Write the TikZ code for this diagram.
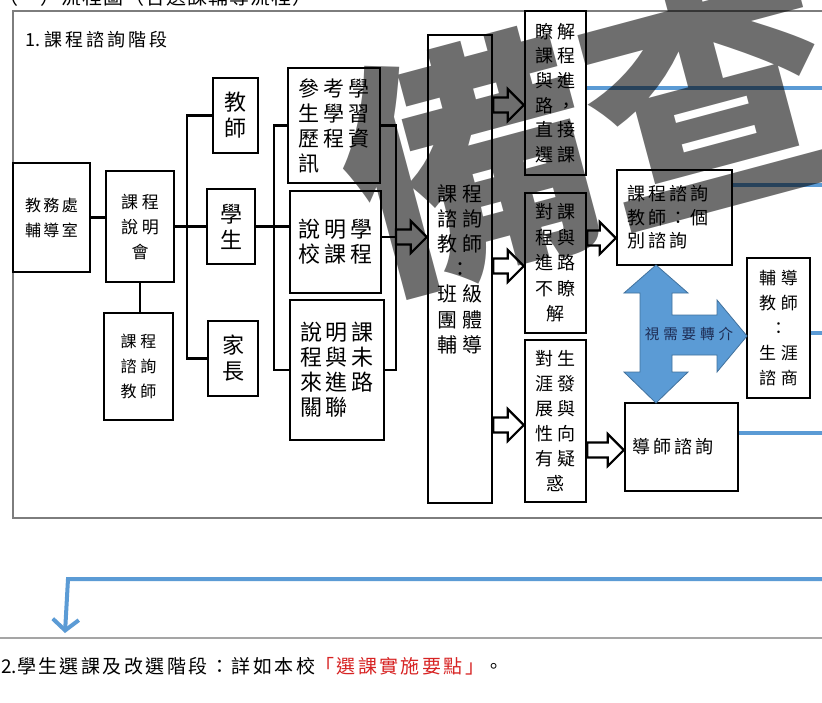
\documentclass[tikz,border=0pt]{standalone}
\usepackage{fontspec}
\usetikzlibrary{arrows.meta,calc}
\newfontfamily\cjk{Noto Sans CJK TC}
\definecolor{bl}{RGB}{91,155,213}
\definecolor{bld}{RGB}{65,113,156}
\definecolor{navy}{RGB}{30,45,85}
\definecolor{frm}{RGB}{125,125,125}
\definecolor{sep}{RGB}{165,165,165}
\definecolor{redt}{RGB}{215,35,35}
\newcommand\ftx[3][25]{\cjk\fontsize{#2}{#1}\selectfont\addfontfeature{LetterSpace=#3}}
% box: [opts]{x1}{y1}{x2}{y2}{name}{text}
\newcommand\bx[7][]{\node[box,#1,minimum width=#4pt-#2pt,minimum height=#5pt-#3pt] (#6) at ({(#2+#4)/2},{(#3+#5)/2}) {#7};}
% hollow block arrow from point #1 to the x of point #2
\newcommand\harr[2]{\path let \p1=(#1), \p2=(#2) in [harrow]
  (\x1,\y1+7.5pt) -- (\x2-16pt,\y1+7.5pt) -- (\x2-16pt,\y1+16pt) -- (\x2,\y1)
  -- (\x2-16pt,\y1-16pt) -- (\x2-16pt,\y1-7.5pt) -- (\x1,\y1-7.5pt) -- cycle;}
\begin{document}
\begin{tikzpicture}[x=1pt,y=-1pt,
  box/.style={draw,line width=2.4pt,inner sep=0pt,align=center},
  conn/.style={line width=2.4pt},
  harrow/.style={draw=black,fill=white,line width=2.2pt,line join=miter},
  bline/.style={draw=bl,line width=3.5pt}]
\useasboundingbox (0,0) rectangle (822,702);
\clip (0,0) rectangle (822,702);
\fill[white] (0,0) rectangle (822,702);

% header (cut off at top)
\node[anchor=base west,inner sep=0pt,font={\ftx{20}{5}}] (hdr) at (-2,4.5) {（一）流程圖（含選課輔導流程）};
% frame
\draw[frm,line width=1.6pt] (13,11) rectangle (840,518);
\node[anchor=west,inner sep=0pt,font={\ftx{18}{0}}] (title) at (25,40) {1.\ \addfontfeature{LetterSpace=17}課程諮詢階段};

% boxes
\bx[font={\ftx{16}{15}}]{13}{163}{90}{272}{jw}{教務處\\輔導室}
\bx[font={\ftx{17}{22}}]{106}{171}{174}{282}{smh}{課程\\說明\\會}
\bx[font={\ftx{16}{24}}]{104}{313}{173}{420}{cct}{課程\\諮詢\\教師}
\bx[font={\ftx[26]{22}{0}}]{213}{78}{258}{153}{tc}{教\\師}
\bx[font={\ftx[26]{22}{0}}]{207}{189}{255}{264}{st}{學\\生}
\bx[font={\ftx[26]{22}{0}}]{208}{321}{258}{396}{pa}{家\\長}
\bx[font={\ftx{21}{19}},align=left]{288}{68}{380}{183}{ck}{參考學\\生學習\\歷程資\\訊}
\bx[font={\ftx{22}{18}},align=left]{290}{191}{381}{293}{sx}{說明學\\校課程}
\bx[font={\ftx{22}{18}},align=left]{290}{300}{384}{440}{sl}{說明課\\程與未\\來進路\\關聯}
\bx[font={\ftx[25.2]{20}{25}}]{428}{35}{492}{503}{bt}{課程\\諮詢\\教師\\：\\班級\\團體\\輔導}
\bx[font={\ftx[24.6]{18}{22}}]{525}{11}{586}{175}{rk}{瞭解\\課程\\與進\\路，\\直接\\選課}
\bx[font={\ftx[25.5]{18}{20}}]{525}{193}{586}{333}{dk}{對課\\程與\\進路\\不瞭\\解}
\bx[font={\ftx{18}{20}}]{525}{340}{586}{502}{ds}{對生\\涯發\\展與\\性向\\有疑\\惑}
\bx[font={\ftx[23.5]{18}{17}},align=left,inner xsep=10pt,text width=95pt]{617}{170}{732}{265}{gb}{課程諮詢\\教師：個\\別諮詢}
\bx[font={\ftx{18}{17}},align=left,inner xsep=7pt,text width=99pt]{625}{403}{738}{491}{ts}{導師諮詢}
\bx[font={\ftx[25]{17}{29}}]{747}{258}{810}{398}{fd}{輔導\\教師\\：\\生涯\\諮商}

% bus connectors
\coordinate (b1) at (187,0);
\coordinate (b2) at (274,0);
\coordinate (b3) at (396,0);
\draw[conn] (jw.east) -- (jw.east -| smh.west);
\draw[conn] (smh.south) -- (smh.south |- cct.north);
\draw[conn] (smh.east) -- (smh.east -| st.west);
\draw[conn] (tc.west) -- (tc.west -| b1) -- (pa.west -| b1) -- (pa.west);
\draw[conn] (st.east) -- (st.east -| sx.west);
\draw[conn] (ck.west) -- (ck.west -| b2) -- (sl.west -| b2) -- (sl.west);
\draw[conn] (ck.east) -- (ck.east -| b3) -- (sl.east -| b3) -- (sl.east);
\draw[conn] (sx.east |- 0,237) -- (b3 |- 0,237);

% hollow block arrows
\harr{b3 |- 0,237}{bt.west}
\harr{bt.east |- 0,105}{rk.west}
\harr{bt.east |- 0,266}{dk.west}
\harr{bt.east |- 0,425}{ds.west}
\harr{dk.east |- 0,238}{gb.west}
\harr{ds.east |- 0,450}{ts.west}

% blue cross arrow
\filldraw[fill=bl,draw=bld,line width=0.8pt]
  (656,265) -- (688,293) -- (672,293) -- (672,315) -- (717,315) -- (717,300)
  -- (747,336) -- (717,372) -- (717,355) -- (672,355) -- (672,372) -- (688,372)
  -- (656,403) -- (624,372) -- (640,372) -- (640,293) -- (624,293) -- cycle;
\node[inner sep=0pt,text=navy,font={\ftx{14.5}{27}}] (ref) at (689,334) {視需要轉介};

% blue lines to the right
\coordinate (re) at (830,0);
\draw[bline] (rk.east |- 0,88) -- (re |- 0,88);
\draw[bline] (gb.east |- 0,185) -- (re |- 0,185);
\draw[bline] (fd.east |- 0,333) -- (re |- 0,333);
\draw[bline] (ts.east |- 0,433) -- (re |- 0,433);
\coordinate (ls) at (840,579);
\coordinate (lc) at (68,579);
\coordinate (lt) at (65,633);
\draw[bl,line width=4pt,-{Straight Barb[length=11pt,width=26pt]}] (ls) -- (lc) -- (lt);

% separator and stage 2
\draw[sep,line width=2pt] (0,638) -- (822,638);
\node[anchor=west,inner sep=0pt,font={\ftx{19}{0}}] (s2) at (1,666) {2.\addfontfeature{LetterSpace=13}學生選課及改選階段：詳如本校\textcolor{redt}{「選課實施要點」}\addfontfeature{LetterSpace=0}。};

% watermark
\node[inner sep=0pt,text=black,text opacity=0.57,rotate=15,font={\cjk\bfseries\fontsize{250}{250}\selectfont}] (wm) at (590,130) {備查};
\end{tikzpicture}
\end{document}
